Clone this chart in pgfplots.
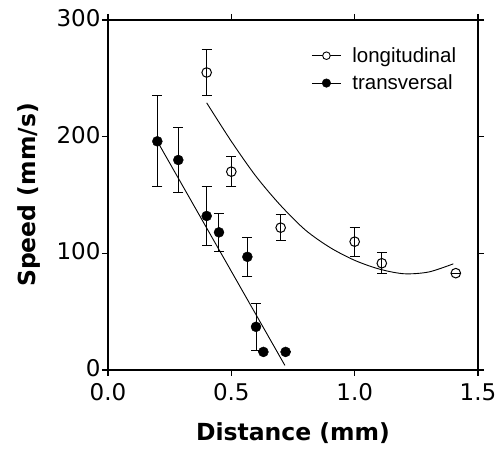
\documentclass[border=0pt]{standalone}
\usepackage{pgfplots}
\pgfplotsset{compat=1.18}
\usepackage{pgfplotstable}
\usepackage{fontspec}
\setmainfont{Liberation Sans}
\newfontfamily\dejavu{DejaVu Sans}

\pgfplotstableread{
x y e
0.40 255 20
0.50 170 13
0.70 122 11
1.00 110 12.5
1.11 91.5 9
1.41 83 0
}\longit

\pgfplotstableread{
x y e
0.20 196 39
0.285 180 28
0.40 132 25
0.45 118 16.5
0.565 97 16.5
0.60 37 20
0.63 15.5 0
0.72 15.5 0
}\transv

\pgfplotstableread{
x y
0.40 229
0.50 196
0.60 166
0.70 141
0.80 120
0.90 105
1.00 94
1.10 86.5
1.20 82.5
1.30 84
1.40 91
}\longfit

\pgfplotstableread{
x y
0.20 196
0.717 4
}\transfit

\begin{document}
\begin{tikzpicture}
\begin{axis}[
  scale only axis, width=370pt, height=350pt,
  xmin=0, xmax=1.5, ymin=0, ymax=300,
  xtick={0,0.5,1,1.5}, xticklabels={0.0,0.5,1.0,1.5},
  ytick={0,100,200,300}, yticklabels={0,100,200,300},
  tick align=outside, major tick length=6pt,
  axis line style={line width=1.2pt},
  every tick/.style={black, line width=1.1pt},
  tick label style={font=\dejavu\fontsize{23}{23}\selectfont},
  xticklabel style={yshift=-4pt},
  yticklabel style={xshift=2pt, yshift=2pt},
  label style={font=\dejavu\bfseries\fontsize{23.5}{23.5}\selectfont},
  xlabel={Distance (mm)}, ylabel={Speed (mm/s)},
  xlabel style={at={(axis description cs:0.5,-0.18)}, anchor=center},
  ylabel style={at={(axis description cs:-0.213,0.5)}, anchor=center},
  legend style={draw=none, fill=none, at={(axis cs:0.812,280)}, anchor=north west,
    font=\fontsize{20.5}{22}\selectfont, row sep=7pt, column sep=9pt,
    nodes={inner sep=2pt}},
  legend cell align=left,
]
\addlegendimage{legend image code/.code={\draw[black,line width=0.9pt] (0pt,0pt)--(29pt,0pt); \draw[black,line width=0.9pt,fill=white] (14.5pt,0pt) circle (3.8pt);}}
\addlegendentry{longitudinal}
\addlegendimage{legend image code/.code={\draw[black,line width=0.9pt] (0pt,0pt)--(29pt,0pt); \fill[black] (14.5pt,0pt) circle (4.3pt);}}
\addlegendentry{transversal}

\addplot[black, line width=0.9pt, smooth, forget plot] table[x=x,y=y] {\longfit};
\addplot[black, line width=0.9pt, forget plot] table[x=x,y=y] {\transfit};

\addplot[black, only marks, mark=o, mark size=4.8pt, mark options={fill=white, line width=1pt}, forget plot,
  error bars/.cd, y dir=both, y explicit,
  error bar style={line width=1pt},
  error mark options={rotate=90, mark size=5pt, line width=1pt}]
  table[x=x,y=y,y error=e] {\longit};
\addplot[black, only marks, mark=*, mark size=5pt, forget plot,
  error bars/.cd, y dir=both, y explicit,
  error bar style={line width=1pt},
  error mark options={rotate=90, mark size=5pt, line width=1pt}]
  table[x=x,y=y,y error=e] {\transv};
\end{axis}
\pgfresetboundingbox
\path ([xshift=-108pt,yshift=-79pt]current axis.south west) rectangle ([xshift=25pt,yshift=20pt]current axis.north east);
\end{tikzpicture}
\end{document}
